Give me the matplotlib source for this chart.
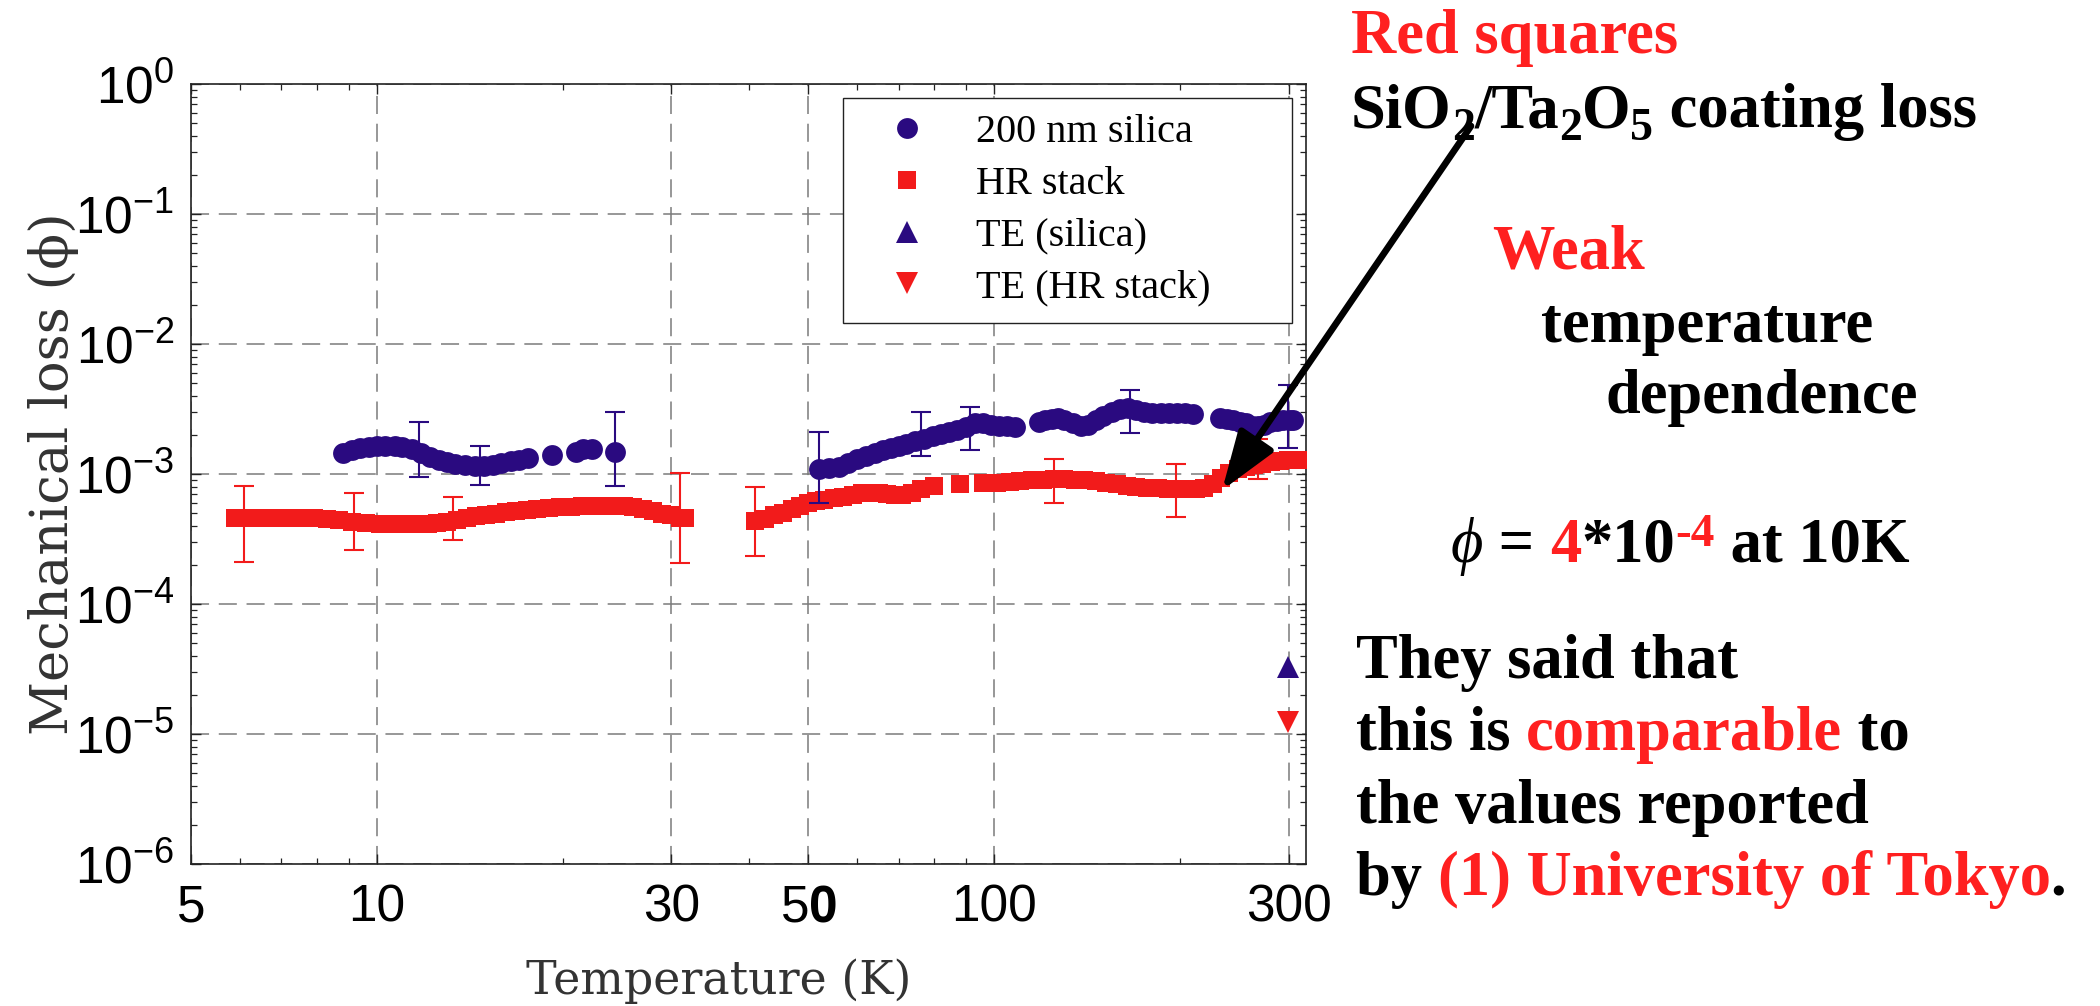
import matplotlib
matplotlib.use("Agg")
import matplotlib.pyplot as plt
import numpy as np
from matplotlib.ticker import LogLocator, FixedLocator, FixedFormatter, NullFormatter

# ---------------- data ----------------
# HR stack (red squares): temperature [K], loss [x1e-4]
red_T = [5.9, 6.3, 6.7, 7.1, 7.5, 7.9, 8.3, 8.7, 9.1, 9.6, 10.1, 10.6, 11.1, 11.6, 12.1,
         12.5, 13.0, 13.5, 14.0, 14.5, 15.0, 15.6, 16.2, 16.8, 17.5, 18.2, 19.0, 19.8,
         20.6, 21.5, 22.4, 23.3, 24.2, 25.1, 26.0, 27.0, 28.0, 29.0, 30.0, 31.0, 31.6,
         41, 42.5, 44, 45.5, 47, 48.5, 50, 51.5, 53, 55, 57, 59, 61, 63, 65, 67, 69, 71,
         73.5, 76, 80, 88, 96, 101, 106, 110, 115, 120, 125, 130, 135, 140, 146, 152,
         158, 164, 170, 177, 184, 191, 198, 205, 212, 219, 226, 233, 240, 248, 256, 264,
         272, 281, 290, 299, 308, 316]
red_phi_e4 = [4.55, 4.55, 4.55, 4.55, 4.55, 4.55, 4.5, 4.4, 4.3, 4.2, 4.1, 4.1, 4.1, 4.1, 4.1,
              4.2, 4.3, 4.45, 4.6, 4.75, 4.85, 4.95, 5.1, 5.2, 5.3, 5.4, 5.5, 5.55,
              5.6, 5.65, 5.7, 5.7, 5.7, 5.65, 5.55, 5.35, 5.15, 4.95, 4.8, 4.6, 4.55,
              4.36, 4.5, 4.8, 5.05, 5.35, 5.7, 6.0, 6.2, 6.35, 6.5, 6.6, 6.9, 7.1, 7.2, 7.15, 7.0, 6.9, 6.95,
              7.2, 7.6, 8.1, 8.4, 8.5, 8.6, 8.7, 8.85, 9.0, 9.05, 9.1, 9.1, 9.05, 8.95, 8.8, 8.6,
              8.35, 8.15, 8.0, 7.85, 7.75, 7.65, 7.6, 7.6, 7.65, 7.85, 8.4, 9.3, 10.2, 10.9, 11.4, 11.8,
              12.0, 12.3, 12.6, 12.8, 12.8, 12.8]

# 200 nm silica (blue circles): temperature [K], loss [x1e-3]
blue_T = [8.8, 9.1, 9.4, 9.7, 10.0, 10.3, 10.7, 11.0, 11.4, 11.8, 12.2, 12.6, 13.0, 13.4,
          13.9, 14.4, 14.9, 15.4, 15.9, 16.5, 17.0, 17.6, 19.2, 21.0, 21.6, 22.3, 24.3,
          52, 54, 56, 58, 60, 62, 64, 66, 68, 70, 72, 74.5, 77, 79.5, 82, 84.5, 87, 90, 93,
          96, 99, 102, 105, 108, 118, 121, 124, 127, 130, 134, 138, 142, 146, 150, 155, 160,
          165, 170, 175, 180, 186, 192, 198, 204, 210, 232, 238, 244, 250, 256, 262, 268,
          274, 280, 287, 294, 301, 305]
blue_phi_e3 = [1.44, 1.52, 1.58, 1.62, 1.64, 1.65, 1.65, 1.62, 1.56, 1.46, 1.36, 1.29, 1.24, 1.20,
               1.17, 1.15, 1.15, 1.18, 1.21, 1.25, 1.28, 1.33, 1.40, 1.47, 1.55, 1.57, 1.47,
               1.10, 1.11, 1.14, 1.22, 1.30, 1.38, 1.45, 1.52, 1.58, 1.65, 1.71, 1.79, 1.87, 1.95, 2.02, 2.10, 2.17, 2.30, 2.45,
               2.45, 2.40, 2.36, 2.32, 2.30, 2.53, 2.58, 2.63, 2.68, 2.62, 2.45, 2.32, 2.40, 2.60, 2.80, 3.0, 3.15,
               3.2, 3.1, 2.98, 2.93, 2.93, 2.93, 2.95, 2.93, 2.90, 2.70, 2.65, 2.58, 2.52, 2.45, 2.35, 2.32,
               2.40, 2.50, 2.57, 2.60, 2.60, 2.58]

# error bars: T, centre, upper, lower
red_err_T = [6.1, 9.2, 13.3, 31.0, 41.0, 125, 197, 268]
red_err_c = [4.55e-4, 4.3e-4, 4.35e-4, 4.6e-4, 4.36e-4, 9.1e-4, 7.6e-4, 1.19e-3]
red_err_hi = [8.1e-4, 7.1e-4, 6.6e-4, 1.02e-3, 7.9e-4, 1.3e-3, 1.2e-3, 1.86e-3]
red_err_lo = [2.1e-4, 2.6e-4, 3.1e-4, 2.07e-4, 2.34e-4, 6.0e-4, 4.7e-4, 9.1e-4]

blue_err_T = [11.7, 14.7, 24.3, 52, 76, 91.5, 166, 299]
blue_err_c = [1.6e-3, 1.15e-3, 1.47e-3, 1.10e-3, 1.9e-3, 2.4e-3, 3.2e-3, 2.6e-3]
blue_err_hi = [2.5e-3, 1.64e-3, 3.0e-3, 2.1e-3, 3.0e-3, 3.3e-3, 4.4e-3, 4.8e-3]
blue_err_lo = [9.5e-4, 8.2e-4, 8.1e-4, 6.0e-4, 1.38e-3, 1.53e-3, 2.07e-3, 1.58e-3]

# thermoelastic estimates
te_T = [299]
te_silica = [3.3e-5]
te_hr = [1.23e-5]

x_ticks = [5, 10, 30, 50, 100, 300]
x_ticklabels = ["5", "10", "30", "5$\\mathbf{0}$", "100", "300"]
y_ticks = [1e-6, 1e-5, 1e-4, 1e-3, 1e-2, 1e-1, 1e0]
y_ticklabels = ["$10^{-6}$", "$10^{-5}$", "$10^{-4}$", "$10^{-3}$", "$10^{-2}$", "$10^{-1}$", "$10^{0}$"]
legend_labels = ["200 nm silica", "HR stack", "TE (silica)", "TE (HR stack)"]

arrow_target = (234, 7.5e-4)

# ---------------- style ----------------
BLUE = "#2a0a80"
RED = "#f21b1b"
TRED = "#ff2020"
SERIF = ["Liberation Serif", "DejaVu Serif"]
LABEL_SERIF = ["DejaVu Serif"]
SANS = "Liberation Sans"

plt.rcParams["mathtext.fontset"] = "custom"
plt.rcParams["mathtext.rm"] = "Liberation Sans"
plt.rcParams["mathtext.it"] = "Liberation Sans:italic"
plt.rcParams["mathtext.bf"] = "Liberation Sans:bold"
plt.rcParams["lines.scale_dashes"] = False

W, H = 2100, 1006
fig = plt.figure(figsize=(W / 100, H / 100), dpi=100)
ax = fig.add_axes([191 / W, (H - 864) / H, (1306 - 191) / W, (864 - 84) / H])

ax.set_xscale("log")
ax.set_yscale("log")
ax.set_xlim(5, 320)
ax.set_ylim(1e-6, 1)

red_T_arr = np.array(red_T)
red_phi = np.array(red_phi_e4) * 1e-4
blue_T_arr = np.array(blue_T)
blue_phi = np.array(blue_phi_e3) * 1e-3

h_blue, = ax.plot(blue_T_arr, blue_phi, "o", color=BLUE, ms=15, mew=0, zorder=4, label=legend_labels[0])
h_red, = ax.plot(red_T_arr, red_phi, "s", color=RED, ms=12.3, mew=0, zorder=3, label=legend_labels[1])
h_te1, = ax.plot(te_T, te_silica, "^", color=BLUE, ms=16, mew=0, zorder=4, label=legend_labels[2])
h_te2, = ax.plot(te_T, te_hr, "v", color=RED, ms=16, mew=0, zorder=4, label=legend_labels[3])

rc = np.array(red_err_c)
ax.errorbar(red_err_T, rc, yerr=[rc - np.array(red_err_lo), np.array(red_err_hi) - rc],
            fmt="none", ecolor=RED, elinewidth=1.5, capsize=7.5, capthick=1.5, zorder=5)
bc = np.array(blue_err_c)
ax.errorbar(blue_err_T, bc, yerr=[bc - np.array(blue_err_lo), np.array(blue_err_hi) - bc],
            fmt="none", ecolor=BLUE, elinewidth=1.5, capsize=7.5, capthick=1.5, zorder=6)

# ticks
ax.xaxis.set_major_locator(FixedLocator(x_ticks))
ax.xaxis.set_major_formatter(FixedFormatter(x_ticklabels))
ax.xaxis.set_minor_locator(LogLocator(base=10, subs=np.arange(2, 10)))
ax.xaxis.set_minor_formatter(NullFormatter())
ax.yaxis.set_major_locator(FixedLocator(y_ticks))
ax.yaxis.set_major_formatter(FixedFormatter(y_ticklabels))
ax.yaxis.set_minor_locator(LogLocator(base=10, subs=np.arange(2, 10), numticks=20))
ax.yaxis.set_minor_formatter(NullFormatter())

ax.tick_params(which="both", direction="in", top=True, right=True, color="#222222")
ax.tick_params(which="major", length=7, width=1.0, labelsize=37, pad=12)
ax.tick_params(which="minor", length=4, width=0.9)
for lab in ax.get_xticklabels() + ax.get_yticklabels():
    lab.set_fontfamily(SANS)
ax.tick_params(axis="x", pad=14)

ax.grid(True, which="major", color="#7a7a7a", lw=1.1, ls=(0, (13, 7)))
for s in ax.spines.values():
    s.set_linewidth(1.2)
    s.set_color("#222222")

ax.set_xlabel("Temperature (K)", family=LABEL_SERIF, fontsize=33, color="#333333")
ax.xaxis.set_label_coords(0.4735, -0.121)
ax.set_ylabel("Mechanical loss (ϕ)", family=LABEL_SERIF, fontsize=38, color="#333333")
ax.yaxis.set_label_coords(-0.1, 0.5)

leg = ax.legend(handles=[h_blue, h_red, h_te1, h_te2], loc="upper left",
                bbox_to_anchor=((843 - 191) / 1115, 0.3, 449 / 1115, (864 - 98) / 780 - 0.3),
                mode="expand", borderaxespad=0, borderpad=0.4, handlelength=2.4,
                handletextpad=0.5, labelspacing=0.36, fancybox=False, framealpha=1,
                edgecolor="#222222", prop=dict(family=SERIF, size=29))
leg.get_frame().set_linewidth(1.0)
leg.set_zorder(10)

# arrow
ax.annotate("", xy=arrow_target, xycoords="data",
            xytext=(1471 / W, 1 - 126 / H), textcoords="figure fraction",
            arrowprops=dict(arrowstyle="-|>,head_length=1.2,head_width=0.42", lw=4.8,
                            color="black", mutation_scale=30, shrinkA=0, shrinkB=0),
            annotation_clip=False, zorder=20)

# ---------------- rich text on the right ----------------
renderer = fig.canvas.get_renderer()
BIG = 45


def advance(s, fp):
    t1 = fig.text(0, 0, "|" + s + "|", **fp)
    t2 = fig.text(0, 0, "||", **fp)
    w = t1.get_window_extent(renderer).width - t2.get_window_extent(renderer).width
    t1.remove()
    t2.remove()
    return w


def rich(x_px, y_px, parts):
    x = x_px
    for p in parts:
        s, color = p[0], p[1]
        size = p[2] if len(p) > 2 else BIG
        dy = p[3] if len(p) > 3 else 0
        style = p[4] if len(p) > 4 else "normal"
        weight = p[5] if len(p) > 5 else "bold"
        fp = dict(family=SERIF, size=size, weight=weight, style=style)
        fig.text(x / W, 1 - (y_px + dy) / H, s, color=color, va="baseline", ha="left", **fp)
        x += advance(s, fp)


rich(1351, 53, [("Red squares", TRED)])
rich(1351, 127, [("SiO", "k"), ("2", "k", 33, 13), ("/Ta", "k"), ("2", "k", 33, 13),
                 ("O", "k"), ("5", "k", 33, 13), (" coating loss", "k")])
rich(1492, 268, [("Weak", TRED)])
rich(1541, 342, [("temperature", "k")])
rich(1605, 413, [("dependence", "k")])
rich(1451, 562, [("ϕ", "k", BIG, 0, "italic", "normal"), (" = ", "k"), ("4", TRED), ("*10", "k"),
                 ("-4", TRED, 34, -16), (" at 10K", "k")])
rich(1356, 678, [("They said that", "k")])
rich(1356, 750, [("this is ", "k"), ("comparable", TRED), (" to", "k")])
rich(1356, 823, [("the values reported", "k")])
rich(1356, 895, [("by ", "k"), ("(1) University of Tokyo", TRED), (".", "k")])

fig.savefig("out.png", dpi=100)
